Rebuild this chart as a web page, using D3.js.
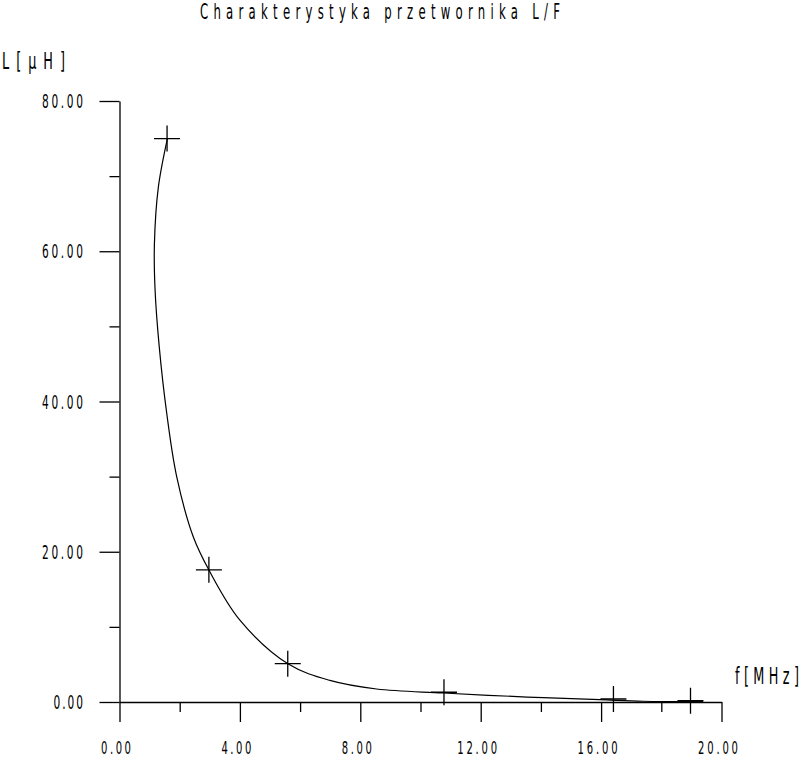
<!DOCTYPE html>
<html>
<head>
<meta charset="utf-8">
<script src="https://cdn.jsdelivr.net/npm/d3@7"></script>
<style>
  body { margin: 0; background: #fff; }
  svg { display: block; }
  text { font-family: "Liberation Sans Narrow", "DejaVu Sans Condensed", sans-serif; fill: #000; }
</style>
</head>
<body>
<svg></svg>
<script>
// measured points (crosses)
var pointF = [1.58, 2.97, 5.59, 10.78, 16.41, 18.97];
var pointL = [75.0, 17.6, 5.1, 1.3, 0.4, 0.17];

// fitted curve
var curveF = [1.59, 1.29, 1.16, 1.18, 1.32, 1.57, 1.90, 2.45, 2.98, 4.00, 5.61, 6.99, 8.54, 10.76, 13.54, 15.96, 17.4, 19.39];
var curveL = [74.95, 68.5, 61.0, 55.0, 47.3, 38.4, 30.0, 22.0, 17.5, 10.9, 5.05, 2.87, 1.73, 1.20, 0.66, 0.31, 0.1, 0.06];

var xTicks = [0, 2, 4, 6, 8, 10, 12, 14, 16, 18, 20];
var yTicks = [0, 10, 20, 30, 40, 50, 60, 70, 80];
var xMajor = [0, 4, 8, 12, 16, 20];
var yMajor = [0, 20, 40, 60, 80];

var title = "Charakterystyka przetwornika L/F";
var yTitle = "L[µH]";
var xTitle = "f[MHz]";

var svg = d3.select("svg").attr("width", 802).attr("height", 758);

var x = d3.scaleLinear().domain([0, 20]).range([119.5, 721.5]);
var y = d3.scaleLinear().domain([0, 80]).range([702, 101]);

var SX = 0.62; // squeeze the font sideways

function label(txt, px, py, anchor, width, size) {
    svg.append("text")
        .attr("transform", "translate(" + px + "," + py + ") scale(" + SX + ",1)")
        .attr("text-anchor", anchor)
        .attr("font-size", size)
        .attr("textLength", width / SX)
        .attr("lengthAdjust", "spacing")
        .text(txt);
}

// axes
var xAxis = svg.append("g")
    .attr("transform", "translate(0," + y(0) + ")")
    .call(d3.axisBottom(x).tickValues(xTicks).tickSize(20).tickSizeOuter(0).tickFormat(""));
var yAxis = svg.append("g")
    .attr("transform", "translate(" + x(0) + ",0)")
    .call(d3.axisLeft(y).tickValues(yTicks).tickSize(20).tickSizeOuter(0).tickFormat(""));

xAxis.selectAll(".tick line").filter(function(d) { return xMajor.indexOf(d) < 0; }).attr("y2", 10);
yAxis.selectAll(".tick line").filter(function(d) { return yMajor.indexOf(d) < 0; }).attr("x2", -10);
svg.selectAll(".domain, .tick line").attr("stroke", "#000").attr("stroke-width", 1.3);

// tick labels
xMajor.forEach(function(v) {
    var s = v.toFixed(2);
    label(s, x(v) - 3.5, 754, "middle", 10 * s.length - 10, 18);
});
yMajor.forEach(function(v) {
    var s = v.toFixed(2);
    label(s, 83, y(v) + 7, "end", 11.6 * s.length - 17, 19);
});

// titles
label(title, 200, 19, "start", 360, 21);
label(yTitle, 2, 69, "start", 63, 23);
label(xTitle, 735, 684, "start", 64, 23);

// curve
var line = d3.line()
    .x(function(d) { return x(d[0]); })
    .y(function(d) { return y(d[1]); })
    .curve(d3.curveCatmullRom);

svg.append("path")
    .datum(d3.zip(curveF, curveL))
    .attr("d", line)
    .attr("fill", "none")
    .attr("stroke", "#000")
    .attr("stroke-width", 1.2);

// crosses
svg.selectAll("path.cross")
    .data(d3.zip(pointF, pointL))
    .enter().append("path")
    .attr("class", "cross")
    .attr("d", function(d) {
        var cx = x(d[0]), cy = y(d[1]);
        return "M" + (cx - 13) + "," + cy + "H" + (cx + 13) + "M" + cx + "," + (cy - 13) + "V" + (cy + 13);
    })
    .attr("stroke", "#000")
    .attr("stroke-width", 1.3);
</script>
</body>
</html>
